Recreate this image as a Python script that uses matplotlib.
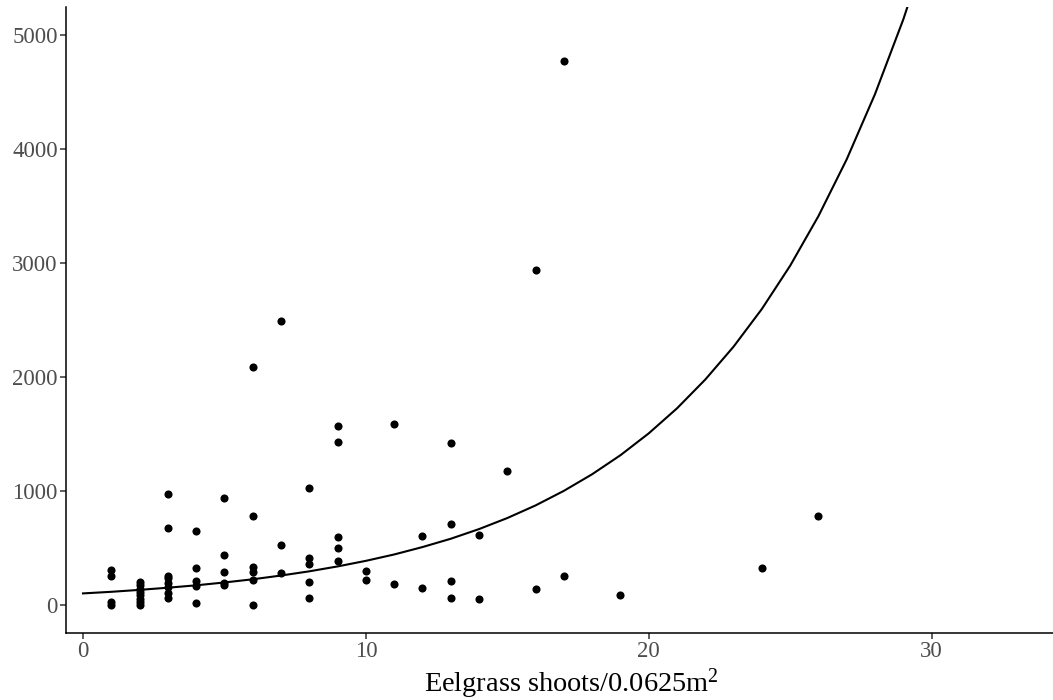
import matplotlib
matplotlib.use("Agg")
import matplotlib.pyplot as plt

# ---- data ----
shoots = [1, 1, 1, 1,
          2, 2, 2, 2, 2, 2, 2, 2,
          3, 3, 3, 3, 3, 3, 3, 3,
          4, 4, 4, 4, 4,
          5, 5, 5, 5, 5,
          6, 6, 6, 6, 6, 6,
          7, 7, 7,
          8, 8, 8, 8, 8,
          9, 9, 9, 9, 9,
          10, 10,
          11, 11,
          12, 12,
          13, 13, 13, 13,
          14, 14,
          15,
          16, 16,
          17, 17,
          19, 24, 26]
density = [305, 250, 20, 0,
           200, 170, 140, 110, 80, 50, 20, 0,
           970, 675, 255, 235, 185, 150, 100, 60,
           645, 325, 205, 160, 10,
           940, 435, 290, 190, 170,
           2085, 775, 330, 290, 215, 0,
           2495, 520, 275,
           1025, 405, 360, 200, 60,
           1570, 1430, 590, 500, 385,
           295, 215,
           1585, 180,
           600, 145,
           1415, 710, 205, 55,
           610, 45,
           1175,
           2940, 140,
           4775, 250,
           80, 325, 775]

# fitted curve
curve_x = list(range(0, 32))
curve_y = [98, 112, 129, 148, 169, 194, 222, 255, 292, 335,
           384, 440, 505, 578, 663, 760, 871, 999, 1145, 1312,
           1504, 1724, 1977, 2266, 2597, 2977, 3413, 3912, 4485, 5141,
           5893, 6755]

x_ticks = [0, 10, 20, 30]
y_ticks = [0, 1000, 2000, 3000, 4000, 5000]
x_label = r"Eelgrass shoots/0.0625m$^{\mathrm{2}}$"

plt.rcParams["font.family"] = ["Liberation Serif", "DejaVu Serif"]
plt.rcParams["mathtext.fontset"] = "custom"
plt.rcParams["mathtext.rm"] = "Liberation Serif"
plt.rcParams["mathtext.it"] = "Liberation Serif:italic"

fig = plt.figure(figsize=(10.53, 7.0), dpi=100)
# panel extends slightly past the right edge of the picture (cropped, as in the reference)
ax = fig.add_axes([0.0627, 0.0957, 0.959, 0.8943])

ax.scatter(shoots, density, s=34, color="black", linewidths=0, zorder=3)
ax.plot(curve_x, curve_y, color="black", linewidth=1.5, zorder=2)

ax.set_xlim(-0.6, 35.1)
ax.set_ylim(-250, 5250)
ax.set_xticks(x_ticks)
ax.set_yticks(y_ticks)

for side in ["top", "right"]:
    ax.spines[side].set_visible(False)
for side in ["left", "bottom"]:
    ax.spines[side].set_color("black")
    ax.spines[side].set_linewidth(1.1)

ax.tick_params(axis="both", length=4, width=1.1, color="#333333",
               labelcolor="#4D4D4D", labelsize=16.5, pad=2)
ax.set_xlabel(x_label, fontsize=20.4, color="black", labelpad=3)

fig.savefig("out.png", dpi=100)
